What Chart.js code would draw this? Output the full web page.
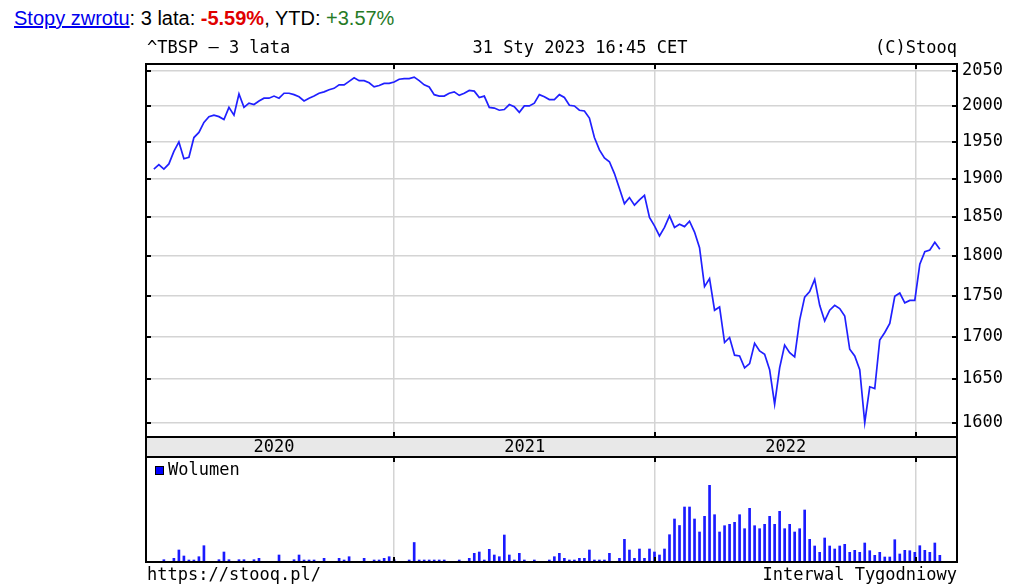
<!DOCTYPE html>
<html>
<head>
<meta charset="utf-8">
<script src="https://cdn.jsdelivr.net/npm/chart.js@4"></script>
<style>
    body { margin: 0; background: #fff; }
    #hdr { position: absolute; left: 14px; top: 7px; font: 20px "Liberation Sans", Arial, sans-serif; color: #000; white-space: nowrap; }
    #hdr a { color: #0000ee; text-decoration: underline; }
    .neg { color: #e00000; font-weight: bold; }
    .pos { color: #267a26; }
    canvas { position: absolute; left: 0; }
</style>
</head>
<body>
<div id="hdr"><a href="#">Stopy zwrotu</a>: 3 lata: <span class="neg">-5.59%</span>, YTD: <span class="pos">+3.57%</span></div>
<canvas id="priceChart" width="1024" height="458" style="top:0"></canvas>
<canvas id="volChart" width="1024" height="132" style="top:456px"></canvas>
<script>
// weekly closes of ^TBSP, first week ending 31 Jan 2020
const FIRST_WEEK = Date.UTC(2020, 0, 31);
const WEEK_MS = 7 * 864e5;

const PRICE = [
    1913, 1919, 1913, 1920, 1937, 1950, 1927, 1929, 1956, 1963,
    1977, 1985, 1987, 1985, 1981, 1998, 1987, 2017, 1998, 2004,
    2002, 2007, 2011, 2011, 2014, 2011, 2018, 2018, 2016, 2013,
    2007, 2011, 2014, 2018, 2020, 2023, 2025, 2030, 2030, 2035,
    2040, 2036, 2036, 2033, 2027, 2029, 2032, 2032, 2034, 2038,
    2039, 2039, 2041, 2036, 2030, 2027, 2016, 2014, 2014, 2018,
    2020, 2015, 2018, 2022, 2021, 2012, 2014, 1998, 1997, 1994,
    1995, 2002, 1999, 1991, 2000, 2000, 2004, 2016, 2013, 2009,
    2009, 2016, 2012, 2001, 2000, 1994, 1993, 1983, 1956, 1939,
    1928, 1923, 1907, 1887, 1867, 1875, 1865, 1872, 1878, 1849,
    1838, 1825, 1836, 1851, 1836, 1840, 1837, 1844, 1830, 1810,
    1761, 1771, 1732, 1736, 1693, 1699, 1678, 1677, 1663, 1668,
    1692, 1683, 1679, 1661, 1621, 1663, 1690, 1681, 1676, 1720,
    1748, 1755, 1770, 1738, 1719, 1732, 1738, 1734, 1725, 1685,
    1677, 1661, 1600, 1641, 1639, 1696, 1705, 1716, 1749, 1753,
    1741, 1744, 1744, 1789, 1805, 1807, 1817, 1808
];

const VOLUME = [
    0, 0, 23, 0, 37, 120, 60, 20, 20, 53,
    163, 0, 0, 23, 100, 23, 0, 23, 23, 0,
    23, 37, 0, 0, 0, 70, 0, 0, 23, 70,
    20, 20, 20, 0, 37, 0, 0, 37, 20, 53,
    0, 0, 37, 0, 20, 20, 37, 53, 23, 0,
    0, 20, 195, 20, 20, 20, 20, 20, 20, 0,
    0, 20, 0, 37, 87, 100, 20, 127, 70, 53,
    270, 70, 20, 87, 20, 0, 20, 0, 0, 20,
    53, 87, 37, 20, 20, 37, 37, 120, 20, 20,
    20, 87, 0, 37, 227, 120, 37, 130, 37, 130,
    100, 70, 130, 273, 430, 365, 550, 550, 430, 300,
    457, 767, 473, 300, 363, 377, 397, 473, 333, 537,
    363, 333, 377, 457, 377, 507, 333, 377, 300, 333,
    520, 227, 160, 97, 240, 160, 130, 160, 177, 97,
    117, 97, 190, 113, 67, 97, 50, 50, 223, 80,
    117, 113, 97, 163, 117, 97, 190, 67
];

const PRICE_TICKS = [1600, 1650, 1700, 1750, 1800, 1850, 1900, 1950, 2000, 2050];
const YEAR_LINES = [Date.UTC(2021, 0, 1), Date.UTC(2022, 0, 1), Date.UTC(2023, 0, 1)];
const YEAR_LABELS = ['2020', '2021', '2022'];

const X_MIN = Date.UTC(2020, 0, 20);
const X_MAX = Date.UTC(2023, 1, 27);

const weeks = PRICE.map((_, i) => FIRST_WEEK + i * WEEK_MS);

const MONO = '17px "DejaVu Sans Mono", monospace';
const GRID = '#d4d4d4';

function innerTicks(ctx, a, yScale) {
    ctx.save();
    ctx.strokeStyle = '#000';
    ctx.lineWidth = 2;
    ctx.beginPath();
    yScale.ticks.forEach(t => {
        const y = Math.round(yScale.getPixelForValue(t.value));
        ctx.moveTo(a.left, y); ctx.lineTo(a.left + 5, y);
        ctx.moveTo(a.right - 5, y); ctx.lineTo(a.right, y);
    });
    ctx.stroke();
    ctx.restore();
}

function yearTicks(chart) {
    const { ctx, chartArea: a, scales: { x } } = chart;
    ctx.save();
    ctx.strokeStyle = '#000';
    ctx.lineWidth = 2;
    ctx.beginPath();
    YEAR_LINES.forEach(v => {
        const px = Math.round(x.getPixelForValue(v));
        ctx.moveTo(px, a.top); ctx.lineTo(px, a.top + 5);
        ctx.moveTo(px, a.bottom - 5); ctx.lineTo(px, a.bottom);
    });
    ctx.stroke();
    ctx.restore();
}

const priceFrame = {
    id: 'priceFrame',
    afterDraw(chart) {
        const { ctx, chartArea: a, scales: { x, y } } = chart;
        ctx.save();

        // year band under the plot
        ctx.fillStyle = '#e8e8e8';
        ctx.fillRect(a.left, a.bottom, a.right - a.left, 20);
        ctx.strokeStyle = '#000';
        ctx.lineWidth = 2;
        ctx.strokeRect(a.left, a.bottom, a.right - a.left, 20);

        ctx.fillStyle = '#000';
        ctx.font = MONO;
        ctx.textBaseline = 'middle';
        ctx.textAlign = 'center';
        YEAR_LABELS.forEach((lbl, i) => {
            const start = i === 0 ? weeks[0] : YEAR_LINES[i - 1];
            const mid = (x.getPixelForValue(start) + x.getPixelForValue(YEAR_LINES[i])) / 2;
            ctx.fillText(lbl, mid, a.bottom + 11);
        });

        // plot frame
        ctx.strokeRect(a.left, a.top, a.right - a.left, a.bottom - a.top);

        // title row
        ctx.textAlign = 'left';
        ctx.fillText('^TBSP – 3 lata', a.left + 1, 49);
        ctx.textAlign = 'center';
        ctx.fillText('31 Sty 2023 16:45 CET', 580, 49);
        ctx.textAlign = 'right';
        ctx.fillText('(C)Stooq', a.right, 49);
        ctx.restore();

        innerTicks(ctx, a, y);
        yearTicks(chart);
    }
};

const volFrame = {
    id: 'volFrame',
    afterDraw(chart) {
        const { ctx, chartArea: a } = chart;
        ctx.save();
        ctx.strokeStyle = '#000';
        ctx.lineWidth = 2;
        ctx.strokeRect(a.left, a.top, a.right - a.left, a.bottom - a.top);

        // legend
        ctx.fillStyle = '#0000ff';
        ctx.fillRect(155, 10, 8, 8);
        ctx.lineWidth = 1;
        ctx.strokeRect(155.5, 10.5, 8, 8);
        ctx.fillStyle = '#000';
        ctx.font = MONO;
        ctx.textBaseline = 'middle';
        ctx.textAlign = 'left';
        ctx.fillText('Wolumen', 168, 15);

        // footer
        ctx.fillText('https://stooq.pl/', a.left + 1, 120);
        ctx.textAlign = 'right';
        ctx.fillText('Interwal Tygodniowy', a.right, 120);
        ctx.restore();

        yearTicks(chart);
    }
};

const xAxis = (height) => ({
    type: 'linear',
    min: X_MIN,
    max: X_MAX,
    offset: false,
    afterBuildTicks: scale => { scale.ticks = YEAR_LINES.map(v => ({ value: v })); },
    afterFit: scale => { scale.height = height; },
    ticks: { display: false },
    grid: { color: GRID, lineWidth: 1.5, drawTicks: false, offset: false },
    border: { display: false }
});

new Chart(document.getElementById('priceChart'), {
    type: 'line',
    data: {
        datasets: [{
            label: '^TBSP',
            data: PRICE.map((v, i) => ({ x: weeks[i], y: v })),
            borderColor: '#2020ff',
            borderWidth: 1.7,
            pointRadius: 0,
            tension: 0
        }]
    },
    options: {
        responsive: false,
        animation: false,
        events: [],
        layout: { padding: { left: 146, top: 64, right: 0, bottom: 0 } },
        plugins: { legend: { display: false }, tooltip: { enabled: false } },
        scales: {
            x: xAxis(21),
            y: {
                type: 'logarithmic',
                position: 'right',
                min: 1584,
                max: 2060,
                afterBuildTicks: scale => { scale.ticks = PRICE_TICKS.map(v => ({ value: v })); },
                afterFit: scale => { scale.width = 67; },
                ticks: {
                    color: '#000',
                    font: { family: '"DejaVu Sans Mono", monospace', size: 17 },
                    padding: 5,
                    callback: v => String(v)
                },
                grid: { color: GRID, lineWidth: 1.5, drawTicks: false },
                border: { display: false }
            }
        }
    },
    plugins: [priceFrame]
});

new Chart(document.getElementById('volChart'), {
    type: 'bar',
    data: {
        datasets: [{
            label: 'Wolumen',
            data: VOLUME.map((v, i) => ({ x: weeks[i], y: v })),
            backgroundColor: '#1a1aff',
            barThickness: 2
        }]
    },
    options: {
        responsive: false,
        animation: false,
        events: [],
        layout: { padding: { left: 146, top: 1, right: 67, bottom: 0 } },
        plugins: { legend: { display: false }, tooltip: { enabled: false } },
        scales: {
            x: xAxis(26),
            y: { display: false, min: 0, max: 1050 }
        }
    },
    plugins: [volFrame]
});
</script>
</body>
</html>
